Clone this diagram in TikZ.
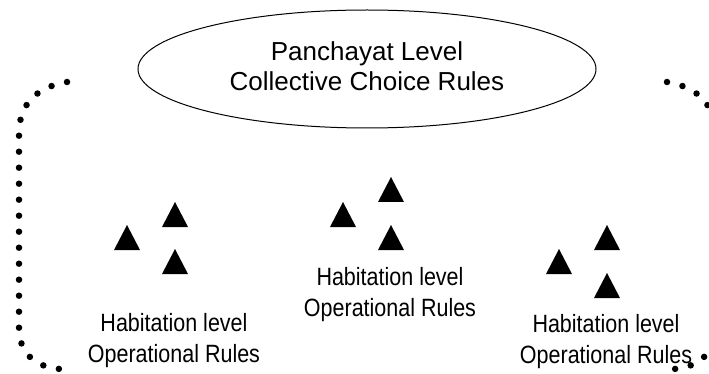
\documentclass[tikz,border=0pt]{standalone}
\usepackage{fontspec}
\setmainfont{Liberation Sans}
\newfontfamily\narrowfont[FakeStretch=0.86]{Liberation Sans}
\usetikzlibrary{shapes.geometric}
\tikzset{
  choicebox/.style={ellipse, draw=black, line width=1pt,
    minimum width=458pt, minimum height=118pt, align=center,
    font=\fontsize{26}{30}\selectfont, text depth=5pt},
  habtext/.style={align=center, inner sep=0pt,
    font=\narrowfont\fontsize{25}{31}\selectfont},
  dotrow/.style={line width=6.5pt, line cap=round,
    dash pattern=on 0pt off 16pt},
  habtri/.style={fill=black}
}

\begin{document}
\begin{tikzpicture}[x=1pt, y=-1pt]
  \useasboundingbox (0,0) rectangle (709,374);
  \clip (0,0) rectangle (709,374);

  \node[choicebox] (panchayat) at (367,69) {Panchayat Level\\Collective Choice Rules};

  \foreach \tx/\ty in {175/202, 127/225, 175/249, 343/202, 391/177, 391/225, 559/249, 607/225, 607/273}
    \fill[habtri] (\tx,\ty) -- ++(-13,25) -- ++(26,0) -- cycle;

  \node[habtext] (hableft) at (174,341) {Habitation level\\Operational Rules};
  \node[habtext] (habmid) at (390,295) {Habitation level\\Operational Rules};
  \node[habtext] (habright) at (606,342) {Habitation level\\Operational Rules};

  \draw[dotrow] (67,82) .. controls (32,88) and (19,108) .. (19,134) -- (19,328)
    .. controls (19,352) and (34,367) .. (60,369);
  \begin{scope}[xshift=734pt, xscale=-1]
    \draw[dotrow] (67,82) .. controls (32,88) and (19,108) .. (19,134) -- (19,328)
      .. controls (19,352) and (34,367) .. (60,369);
  \end{scope}
\end{tikzpicture}
\end{document}
